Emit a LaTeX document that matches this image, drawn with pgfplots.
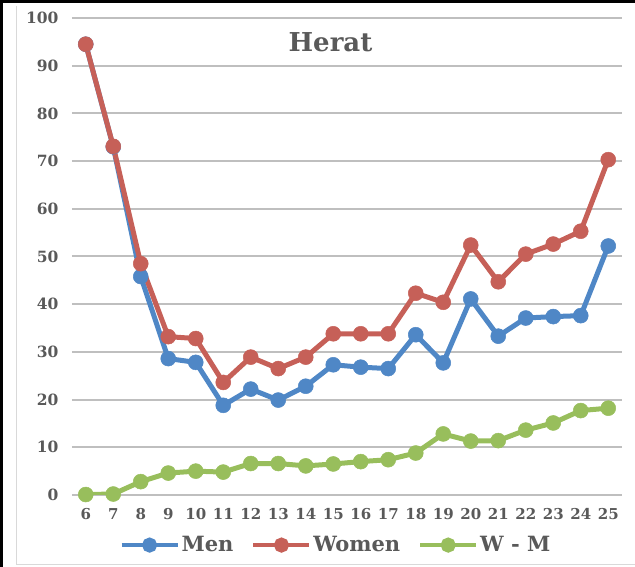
\documentclass[border=0pt]{standalone}
\usepackage{pgfplots}
\pgfplotsset{compat=1.18}
\usepackage{fontspec}
\setmainfont{DejaVu Serif}
\definecolor{menc}{RGB}{79,135,198}
\definecolor{womc}{RGB}{198,96,88}
\definecolor{wmc}{RGB}{152,190,92}
\definecolor{txt}{RGB}{89,89,89}
\definecolor{grid}{RGB}{217,217,217}
\begin{document}
\begin{tikzpicture}[x=1pt,y=1pt]
\path[use as bounding box] (0,0) rectangle (635,567);
\draw[black, line width=3pt] (1.5,0) -- (1.5,565.5) -- (635,565.5);
\draw[grid, line width=1pt] (16,561) -- (16,2) -- (635,2);
\begin{axis}[
  at={(72pt,72pt)}, anchor=south west,
  scale only axis, width=550pt, height=477pt,
  xmin=5.5, xmax=25.5, ymin=0, ymax=100,
  axis line style={draw=none},
  xtick={6,...,25}, ytick={0,10,...,100},
  xmajorgrids=false, ymajorgrids=true, grid style={grid, line width=2pt},
  major tick length=0pt, tick style={draw=none},
  /pgf/number format/assume math mode=true,
  yticklabel style={text=txt, font=\fontsize{15.5}{16}\selectfont\bfseries, xshift=-10pt},
  xticklabel style={text=txt, font=\fontsize{15}{16}\selectfont\bfseries, yshift=-10pt},
  title={\fontsize{26}{28}\selectfont\bfseries Herat},
  title style={at={(0.47,0.936)}, anchor=center, text=txt},
  legend columns=3,
  legend style={at={(0.48,-0.105)}, anchor=center, draw=none, fill=none,
    font=\fontsize{21}{22}\selectfont\bfseries, text=txt,
    /tikz/every even column/.append style={column sep=16pt}},
  legend image code/.code={
    \draw[#1, line width=4pt] (0pt,0pt) -- (56pt,0pt);
    \fill[#1] (28pt,0pt) circle (5pt);
  },
  every axis plot/.append style={line width=5pt, mark=*, mark size=7.5pt},
]
\addplot[menc, mark options={fill=menc, draw=menc, line width=0.5pt}] coordinates {
(6,94.5)(7,73)(8,45.8)(9,28.6)(10,27.8)(11,18.8)(12,22.2)(13,19.9)(14,22.8)(15,27.3)
(16,26.8)(17,26.5)(18,33.6)(19,27.7)(20,41.1)(21,33.3)(22,37.1)(23,37.4)(24,37.6)(25,52.2)};
\addlegendentry{Men}
\addplot[womc, mark options={fill=womc, draw=womc, line width=0.5pt}] coordinates {
(6,94.5)(7,73.1)(8,48.5)(9,33.2)(10,32.8)(11,23.6)(12,28.9)(13,26.5)(14,28.9)(15,33.8)
(16,33.8)(17,33.8)(18,42.3)(19,40.4)(20,52.4)(21,44.7)(22,50.5)(23,52.6)(24,55.3)(25,70.3)};
\addlegendentry{Women}
\addplot[wmc, mark options={fill=wmc, draw=wmc, line width=0.5pt}] coordinates {
(6,0.1)(7,0.2)(8,2.8)(9,4.6)(10,5.0)(11,4.8)(12,6.6)(13,6.6)(14,6.1)(15,6.5)
(16,7.0)(17,7.4)(18,8.8)(19,12.8)(20,11.3)(21,11.4)(22,13.6)(23,15.1)(24,17.7)(25,18.2)};
\addlegendentry{W - M}
\end{axis}
\end{tikzpicture}
\end{document}
